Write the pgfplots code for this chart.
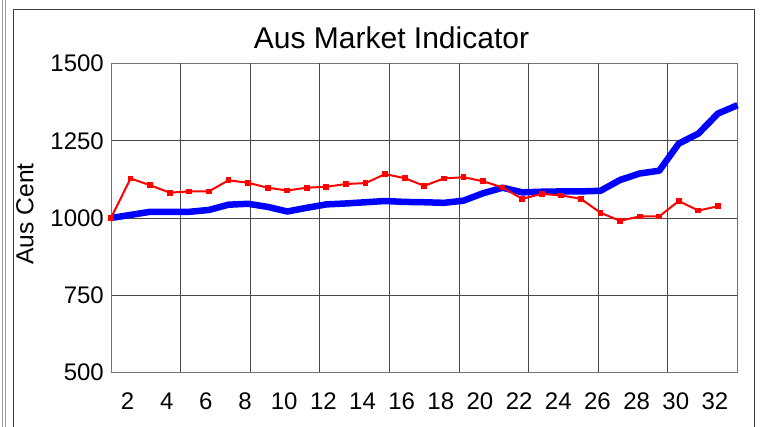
\documentclass[border=0pt]{standalone}
\usepackage{fontspec}
\setmainfont{Liberation Sans}
\usepackage{pgfplots}
\pgfplotsset{compat=1.18}
\begin{document}
\begin{tikzpicture}[x=1pt,y=1pt]
\path[use as bounding box] (0,0) rectangle (762,427);
% outer frame
\draw[black!40, line width=1pt] (2.7,0) -- (2.7,427);
\draw[black!40, line width=1pt] (5.5,0) -- (5.5,427);
\draw[black!75, line width=1.5pt] (13.5,0) -- (13.5,417.5) -- (754.5,417.5) -- (754.5,0);
\begin{axis}[
  at={(111pt,54.5pt)}, anchor=south west,
  scale only axis, width=626.5pt, height=309pt,
  xmin=1, xmax=33, ymin=500, ymax=1500,
  xtick={2,4,...,32}, ytick={500,750,1000,1250,1500},
  major tick length=0pt,
  ymajorgrids=true, xmajorgrids=false,
  extra x ticks={4.5556,8.1111,11.6667,15.2222,18.7778,22.3333,25.8889,29.4444},
  extra x tick labels={},
  extra x tick style={xmajorgrids=true, major tick length=0pt},
  grid style={black!72, line width=0.9pt},
  axis line style={black!55, line width=1pt},
  /pgf/number format/assume math mode=true,
  /pgf/number format/1000 sep={},
  tick label style={font=\fontsize{24}{28}\selectfont},
  xticklabel style={anchor=base, yshift=-36.8pt, xshift=-3pt, inner sep=0pt},
  yticklabel style={anchor=east, inner sep=0pt, xshift=-7pt},
  clip=false,
]
\addplot[blue, line width=6.5pt, line join=round] coordinates {
(1,1000)(2,1010)(3,1020)(4,1020)(5,1020)(6,1026)(7,1043)(8,1046)(9,1036)(10,1021)
(11,1033)(12,1044)(13,1047)(14,1051)(15,1055)(16,1052)(17,1051)(18,1049)(19,1056)(20,1080)
(21,1098)(22,1083)(23,1085)(24,1086)(25,1086)(26,1088)(27,1123)(28,1144)(29,1153)(30,1241)
(31,1273)(32,1338)(33,1365)};
\addplot[red, line width=2pt, mark=square*, mark size=2.4pt, mark options={solid, line width=0pt}] coordinates {
(1,1000)(2,1128)(3,1106)(4,1082)(5,1086)(6,1086)(7,1122)(8,1114)(9,1098)(10,1089)
(11,1098)(12,1101)(13,1110)(14,1113)(15,1142)(16,1129)(17,1104)(18,1128)(19,1132)(20,1119)
(21,1099)(22,1062)(23,1078)(24,1073)(25,1062)(26,1017)(27,991)(28,1005)(29,1005)(30,1055)
(31,1024)(32,1038)};
\end{axis}
\node[anchor=base, font=\fontsize{30}{36}\selectfont] at (391.5,378.7) {Aus Market Indicator};
\node[anchor=base, rotate=90, font=\fontsize{24.6}{29}\selectfont] at (33.3,213) {Aus Cent};
\end{tikzpicture}
\end{document}
